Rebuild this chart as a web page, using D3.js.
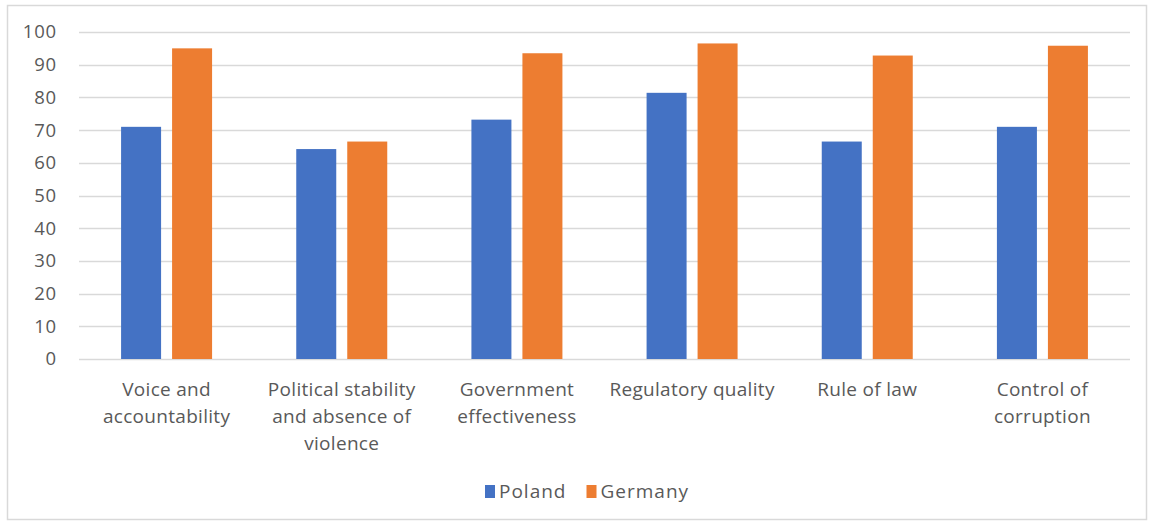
<!DOCTYPE html>
<html><head><meta charset="utf-8">
<script src="https://cdn.jsdelivr.net/npm/d3@7"></script>
<style>
body{margin:0;background:#fff;}
text{font-family:"Open Sans",sans-serif;fill:#595959;}
</style></head>
<body><svg id="chart" width="1153" height="523"></svg>
<script>
const categories = ["Voice and accountability","Political stability and absence of violence","Government effectiveness","Regulatory quality","Rule of law","Control of corruption"];
const labelLines = [["Voice and","accountability"],["Political stability","and absence of","violence"],["Government","effectiveness"],["Regulatory quality"],["Rule of law"],["Control of","corruption"]];
const seriesNames = ["Poland","Germany"];
const poland = [71.0, 64.2, 73.2, 81.4, 66.5, 71.0];
const germany = [95.0, 66.5, 93.5, 96.5, 92.8, 95.8];
const yTicks = [0,10,20,30,40,50,60,70,80,90,100];
const colors = ["#4472C4","#ED7D31"];

const svg = d3.select("#chart");
svg.append("rect").attr("x",7.5).attr("y",5.5).attr("width",1139).attr("height",514)
  .attr("fill","#fff").attr("stroke","#d9d9d9").attr("stroke-width",1.5);

const m = {left:79, right:1130, top:32, bottom:359};
const x = d3.scaleBand().domain(categories).range([m.left,m.right]);
const y = d3.scaleLinear().domain([0,100]).range([m.bottom,m.top]);
const barW = 40, gap = 11;
const x1 = d3.scaleOrdinal().domain(seriesNames).range([-(barW+gap/2), gap/2]);

svg.append("g").selectAll("line").data(yTicks).join("line")
  .attr("x1",m.left).attr("x2",m.right)
  .attr("y1",d=>Math.round(y(d))+0.5).attr("y2",d=>Math.round(y(d))+0.5)
  .attr("stroke","#d9d9d9").attr("stroke-width",1.5);

const yAxis = d3.axisLeft(y).tickValues(yTicks).tickSize(0).tickPadding(0);
const ga = svg.append("g").attr("transform",`translate(57,0)`).call(yAxis);
ga.select(".domain").remove();
ga.selectAll("text").attr("font-size",18.5).attr("font-family","Open Sans").attr("fill","#595959").style("letter-spacing","0.8px");

const data = [poland, germany];
seriesNames.forEach((s,si)=>{
  svg.append("g").selectAll("rect").data(categories).join("rect")
    .attr("x",(c)=>x(c)+x.bandwidth()/2 + x1(s))
    .attr("width",barW)
    .attr("y",(c,i)=>y(data[si][i]))
    .attr("height",(c,i)=>y(0)-y(data[si][i]))
    .attr("fill",colors[si]);
});

const gl = svg.append("g");
categories.forEach((c,i)=>{
  const t = gl.append("text").attr("text-anchor","middle").attr("font-size",19).style("letter-spacing","0.3px");
  labelLines[i].forEach((ln,j)=>{
    t.append("tspan").attr("x",x(c)+x.bandwidth()/2).attr("y",396+j*27).text(ln);
  });
});

const lg = svg.append("g");
let cx = 485;
seriesNames.forEach((s,i)=>{
  lg.append("rect").attr("x",cx).attr("y",485).attr("width",10).attr("height",13).attr("fill",colors[i]);
  const t = lg.append("text").attr("x",cx+14).attr("y",498).attr("font-size",19).style("letter-spacing","1px").text(s);
  cx = cx + 14 + t.node().getComputedTextLength() + 20;
});
</script></body></html>
